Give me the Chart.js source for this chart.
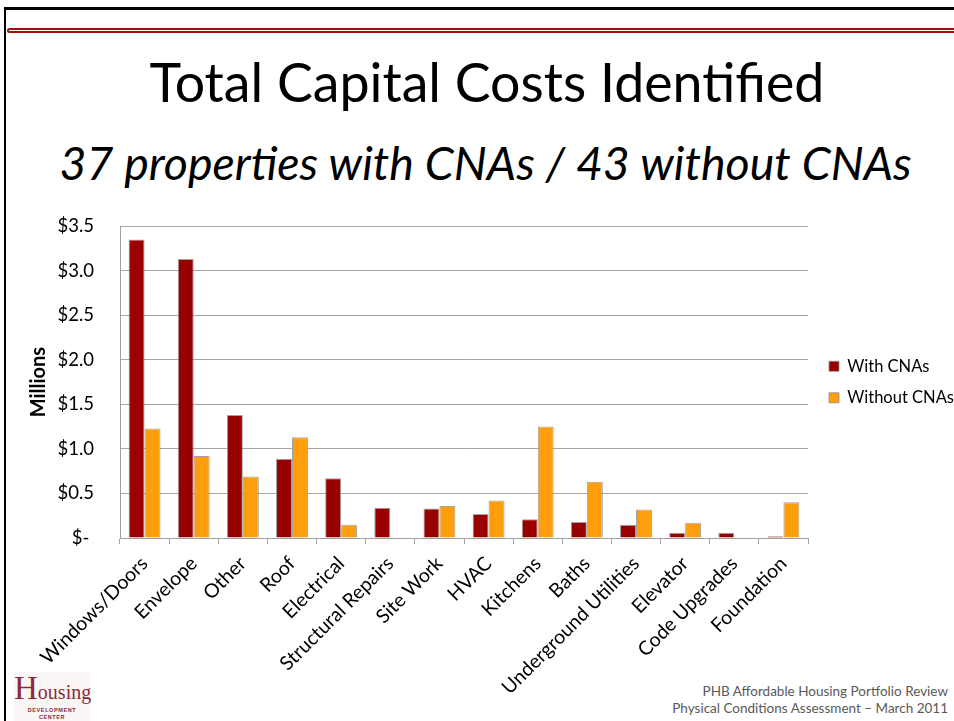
<!DOCTYPE html>
<html>
<head>
<meta charset="utf-8">
<title>Total Capital Costs Identified</title>
<script src="https://cdn.jsdelivr.net/npm/chart.js@4.4.1/dist/chart.umd.min.js"></script>
<style>
  body { margin: 0; width: 954px; height: 721px; overflow: hidden; background: #fff; position: relative; font-family: Lato, "Open Sans", sans-serif; }
  .frame-top { position: absolute; left: 4px; top: 7px; width: 950px; height: 3px; background: #000; }
  .frame-left { position: absolute; left: 4px; top: 7px; width: 2px; height: 714px; background: #000; }
  .rule { position: absolute; left: 7px; top: 28px; width: 960px; height: 1px; border: 2px solid #a01010; border-radius: 3px 0 0 3px; }
  .head { position: absolute; white-space: nowrap; line-height: 1; color: #000; }
  #subtitle { font-style: italic; }
  .footer { position: absolute; right: 6px; top: 683px; text-align: right; font-size: 13.5px; line-height: 16.5px; color: #595959; }
  .logo { position: absolute; left: 14px; top: 672px; width: 76px; height: 49px; background: #faf6f6; color: #8c2a38; font-family: "Liberation Serif", "DejaVu Serif", serif; }
  .logo .word { position: absolute; left: 0; top: 0; font-size: 20px; line-height: 1; white-space: nowrap; }
  .logo .word span { font-size: 33px; }
  .logo .small { position: absolute; width: 76px; text-align: center; font-family: "Liberation Sans", sans-serif; font-size: 5.5px; font-weight: bold; letter-spacing: 0.6px; }
  #wrap { position: absolute; left: 0; top: 189px; width: 954px; height: 532px; }
</style>
</head>
<body>
<div class="frame-top"></div>
<div class="frame-left"></div>
<div class="rule"></div>

<div class="head" id="title">Total Capital Costs Identified</div>
<div class="head" id="subtitle">37 properties with CNAs / 43 without CNAs</div>

<div class="logo">
  <div class="word"><span>H</span>ousing</div>
  <div class="small" style="top:35px">DEVELOPMENT</div>
  <div class="small" style="top:42px">CENTER</div>
</div>

<div class="footer">PHB Affordable Housing Portfolio Review<br>Physical Conditions Assessment – March 2011</div>

<div id="wrap"><canvas id="costChart" width="954" height="532"></canvas></div>

<script>
// cost categories, in millions of dollars
const categories = [
  "Windows/Doors", "Envelope", "Other", "Roof", "Electrical", "Structural Repairs",
  "Site Work", "HVAC", "Kitchens", "Baths", "Underground Utilities", "Elevator",
  "Code Upgrades", "Foundation"
];
const withCNAs = [3.35, 3.13, 1.38, 0.89, 0.67, 0.34, 0.33, 0.27, 0.21, 0.18, 0.15, 0.06, 0.06, 0.02];
const withoutCNAs = [1.23, 0.92, 0.69, 1.13, 0.15, 0, 0.36, 0.42, 1.25, 0.63, 0.32, 0.17, 0, 0.40];
const yTicks = [0, 0.5, 1.0, 1.5, 2.0, 2.5, 3.0, 3.5];

const FONT = "Lato, 'Open Sans', sans-serif";

// size a heading so it spans a given width, then sit it on a baseline
function placeHeading(id, text, fontStyle, targetWidth, centerX, baseline) {
  const el = document.getElementById(id);
  const ctx = document.createElement("canvas").getContext("2d");
  ctx.font = fontStyle + " 100px " + FONT;
  const size = 100 * targetWidth / ctx.measureText(text).width;
  el.style.fontSize = size + "px";
  el.style.left = (centerX - targetWidth / 2) + "px";
  el.style.top = (baseline - 0.887 * size) + "px";
}

// nudge the legend block to the right of the plot
const legendNudge = {
  id: "legendNudge",
  afterLayout(chart) {
    chart.legend.left += 6;
    chart.legend.right += 6;
  },
};

function draw() {
  placeHeading("title", "Total Capital Costs Identified", "normal", 675, 487, 103);
  placeHeading("subtitle", "37 properties with CNAs / 43 without CNAs", "italic", 853, 486, 180);

  Chart.defaults.color = "#000";
  Chart.defaults.font.family = FONT;

  const ctx = document.getElementById("costChart").getContext("2d");
  new Chart(ctx, {
    type: "bar",
    data: {
      labels: categories,
      datasets: [
        {
          label: "With CNAs",
          data: withCNAs,
          backgroundColor: "#990000",
          borderColor: "rgba(140,140,140,0.8)",
          borderWidth: 1,
        },
        {
          label: "Without CNAs",
          data: withoutCNAs,
          backgroundColor: "#ff9e0c",
          borderColor: "rgba(140,140,140,0.8)",
          borderWidth: 1,
        },
      ],
    },
    options: {
      responsive: false,
      animation: false,
      devicePixelRatio: 1,
      layout: { padding: { top: 18, right: 0, bottom: 0, left: 0 } },
      datasets: {
        bar: { categoryPercentage: 0.65, barPercentage: 1.0 },
      },
      scales: {
        x: {
          afterFit: (scale) => { scale.height = 183; },
          grid: { drawOnChartArea: false, color: "#a0a0a0", tickLength: 6, offset: true },
          border: { color: "#a0a0a0" },
          ticks: {
            autoSkip: false,
            minRotation: 45,
            maxRotation: 45,
            padding: 8,
            font: { size: 19.5 },
          },
        },
        y: {
          min: 0,
          max: 3.5,
          afterFit: (scale) => { scale.width = 120; },
          afterBuildTicks: (scale) => { scale.ticks = yTicks.map((v) => ({ value: v })); },
          grid: { color: "#a6a6a6", drawTicks: false },
          border: { color: "#a0a0a0" },
          ticks: {
            padding: 26,
            font: { size: 18.5 },
            callback: (v) => (v === 0 ? "$- " : "$" + Number(v).toFixed(1)),
          },
          title: {
            display: true,
            text: "Millions",
            font: { size: 20, weight: "bold" },
            padding: { top: 27, bottom: 0 },
          },
        },
      },
      plugins: {
        legend: {
          position: "right",
          fullSize: false,
          maxWidth: 146,
          labels: {
            boxWidth: 10,
            boxHeight: 10,
            padding: 15,
            font: { size: 16.5 },
          },
        },
        tooltip: { enabled: false },
      },
    },
    plugins: [legendNudge],
  });
}

document.fonts.load("100px Lato").then(draw, draw);
</script>
</body>
</html>
